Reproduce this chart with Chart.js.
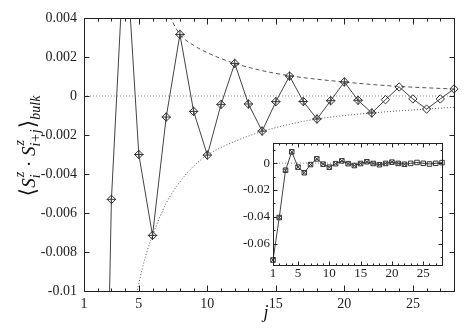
<!DOCTYPE html>
<html>
<head>
<meta charset="utf-8">
<script src="https://cdn.jsdelivr.net/npm/chart.js@4.4.1/dist/chart.umd.min.js"></script>
<style>
  html, body { margin: 0; padding: 0; background: #fff; }
  #wrap { position: relative; width: 469px; height: 335px; }
  #wrap canvas { position: absolute; left: 0; top: 0; }
</style>
</head>
<body>
<div id="wrap">
  <canvas id="mainChart" width="469" height="335"></canvas>
  <canvas id="insetChart" width="469" height="335"></canvas>
</div>
<script>
// correlation <S_i^z S_i+j^z>
const jValues = [1, 2, 3, 4, 5, 6, 7, 8, 9, 10, 11, 12, 13, 14,
                 15, 16, 17, 18, 19, 20, 21, 22, 23, 24, 25, 26, 27, 28];
const corrValues = [-0.0723, -0.0406, -0.0053, 0.0084, -0.0030, -0.00715, -0.00108, 0.00316,
                    -0.00079, -0.00303, -0.00043, 0.00167, -0.00041, -0.00180, -0.00029, 0.00102,
                    -0.00028, -0.00118, -0.00024, 0.00072, -0.00022, -0.00087, -0.00019, 0.00046,
                    -0.00015, -0.00067, -0.00015, 0.00036];
const crossedUpTo = 22; // points up to here carry the extra cross mark

// envelope curves (dashed above, dotted below)
const upperJ = [7, 7.31, 8, 9, 10, 11, 12, 14, 16, 18, 20, 22, 24, 26, 28];
const upperVals = [0.0044, 0.0040, 0.00316, 0.0026, 0.00222, 0.00192, 0.00167, 0.00130,
                   0.00104, 0.00086, 0.00072, 0.00059, 0.00049, 0.00042, 0.00036];
const lowerJ = [4.5, 5, 5.5, 6, 7, 8, 9, 10, 12, 14, 16, 18, 20, 22, 24, 26, 28];
const lowerVals = [-0.0113, -0.0096, -0.0082, -0.00715, -0.0055, -0.0044, -0.0036, -0.00303,
                   -0.00233, -0.00182, -0.00145, -0.00118, -0.00100, -0.00087, -0.00076,
                   -0.00067, -0.00058];

// ticks
const mainYTicks = [0.004, 0.002, 0, -0.002, -0.004, -0.006, -0.008, -0.01];
const mainXLabels = [1, 5, 10, 15, 20, 25];
const insetYTicks = [0.01, 0, -0.01, -0.02, -0.03, -0.04, -0.05, -0.06, -0.07];
const insetYLabels = [0, -0.02, -0.04, -0.06];
const insetXLabels = [1, 5, 10, 15, 20, 25];

const FONT = "'Liberation Serif', 'DejaVu Serif', serif";
Chart.defaults.font.family = FONT;
Chart.defaults.color = '#222';

function pts(xs, ys) {
    return xs.map((x, i) => ({ x: x, y: ys[i] }));
}

const crossJ = jValues.filter(j => j <= crossedUpTo);
const crossVals = corrValues.slice(0, crossJ.length);

// frame with inward ticks on all four sides (gnuplot style)
const frameTicks = {
    id: 'frameTicks',
    afterDatasetsDraw(chart, args, o) {
        const { ctx, chartArea: a } = chart;
        const xs = chart.scales.x, ys = chart.scales.y;
        const L = Math.round(a.left) + 0.5, R = Math.round(a.right) + 0.5;
        const T = Math.round(a.top) + 0.5, B = Math.round(a.bottom) + 0.5;
        ctx.save();
        ctx.strokeStyle = '#222';
        ctx.lineWidth = 1;
        ctx.strokeRect(L, T, R - L, B - T);
        ctx.beginPath();
        xs.ticks.forEach(t => {
            const px = Math.round(xs.getPixelForValue(t.value)) + 0.5;
            const len = o.xMajor.includes(t.value) ? o.xMajorLen : o.xMinorLen;
            ctx.moveTo(px, B); ctx.lineTo(px, B - len);
            ctx.moveTo(px, T); ctx.lineTo(px, T + len);
        });
        ys.ticks.forEach(t => {
            const py = Math.round(ys.getPixelForValue(t.value)) + 0.5;
            const len = o.yMajor.includes(t.value) ? o.yMajorLen : o.yMinorLen;
            ctx.moveTo(L, py); ctx.lineTo(L + len, py);
            ctx.moveTo(R, py); ctx.lineTo(R - len, py);
        });
        ctx.stroke();
        ctx.restore();
    }
};

// axis titles
const axisTitles = {
    id: 'axisTitles',
    afterDraw(chart) {
        const ctx = chart.ctx;
        ctx.save();
        ctx.fillStyle = '#111';
        ctx.textBaseline = 'alphabetic';

        // x title
        ctx.font = 'italic 18px ' + FONT;
        ctx.textAlign = 'center';
        ctx.fillText('j', 266, 318);

        // y title, rotated
        const big = 'italic 19px ' + FONT;
        const small = 'italic 14px ' + FONT;
        const plain = '19px ' + FONT;
        const brk = '22px ' + FONT;
        const parts = [
            { t: '\u27E8', f: brk },
            { t: 'S', f: big },
            { sup: 'z', sub: 'i' },
            { t: ' \u00B7 ', f: plain },
            { t: 'S', f: big },
            { sup: 'z', sub: 'i+j' },
            { t: '\u27E9', f: brk },
            { t: 'bulk', f: small, dy: 5 }
        ];
        const widthOf = p => {
            if (p.t !== undefined) { ctx.font = p.f; return ctx.measureText(p.t).width; }
            ctx.font = small;
            return Math.max(ctx.measureText(p.sup).width, ctx.measureText(p.sub).width) + 1;
        };
        const total = parts.reduce((s, p) => s + widthOf(p), 0);
        ctx.translate(35, 146);
        ctx.rotate(-Math.PI / 2);
        ctx.textAlign = 'left';
        let x = -total / 2;
        parts.forEach(p => {
            const w = widthOf(p);
            if (p.t !== undefined) {
                ctx.font = p.f;
                ctx.fillText(p.t, x, p.dy || 0);
            } else {
                ctx.font = small;
                ctx.fillText(p.sup, x + 1, -11);
                ctx.fillText(p.sub, x, 5);
            }
            x += w;
        });
        ctx.restore();
    }
};

// main chart
new Chart(document.getElementById('mainChart'), {
    type: 'line',
    data: {
        datasets: [
            {
                data: pts(jValues, corrValues),
                borderColor: '#444',
                borderWidth: 1,
                tension: 0,
                pointStyle: 'rectRot',
                pointRadius: 4.2,
                pointBorderColor: '#333',
                pointBackgroundColor: 'rgba(255,255,255,0)',
                pointBorderWidth: 1,
                clip: { left: 0, top: 0, right: 6, bottom: 0 }
            },
            {
                data: pts(crossJ, crossVals),
                showLine: false,
                pointStyle: 'cross',
                pointRadius: 4.6,
                pointBorderColor: '#333',
                pointBorderWidth: 1,
                clip: { left: 0, top: 0, right: 6, bottom: 0 }
            },
            {
                data: pts(upperJ, upperVals),
                borderColor: '#555',
                borderWidth: 1,
                borderDash: [4, 3],
                cubicInterpolationMode: 'monotone',
                pointRadius: 0,
                clip: 0
            },
            {
                data: pts(lowerJ, lowerVals),
                borderColor: '#555',
                borderWidth: 1,
                borderDash: [1, 2],
                cubicInterpolationMode: 'monotone',
                pointRadius: 0,
                clip: 0
            },
            {
                data: [{ x: 1, y: 0 }, { x: 28, y: 0 }],
                borderColor: '#888',
                borderWidth: 1,
                borderDash: [1, 2],
                pointRadius: 0,
                clip: 0
            }
        ]
    },
    options: {
        responsive: false,
        animation: false,
        events: [],
        layout: { padding: { left: 0, top: 18, right: 15, bottom: 0 } },
        plugins: {
            legend: { display: false },
            tooltip: { enabled: false },
            frameTicks: {
                xMajor: mainXLabels, xMajorLen: 6, xMinorLen: 3,
                yMajor: mainYTicks, yMajorLen: 5, yMinorLen: 3
            }
        },
        scales: {
            x: {
                type: 'linear',
                min: 1,
                max: 28,
                grid: { display: false, drawTicks: false },
                border: { display: false },
                afterBuildTicks: s => { s.ticks = jValues.map(v => ({ value: v })); },
                afterFit: s => { s.height = 44; },
                ticks: {
                    autoSkip: false,
                    maxRotation: 0,
                    padding: 5,
                    font: { size: 14 },
                    callback: v => mainXLabels.includes(v) ? String(v) : ''
                }
            },
            y: {
                type: 'linear',
                min: -0.01,
                max: 0.004,
                grid: { display: false, drawTicks: false },
                border: { display: false },
                afterBuildTicks: s => { s.ticks = mainYTicks.map(v => ({ value: v })); },
                afterFit: s => { s.width = 84; },
                ticks: {
                    autoSkip: false,
                    padding: 7,
                    font: { size: 14 },
                    callback: v => String(v)
                }
            }
        }
    },
    plugins: [frameTicks, axisTitles]
});

// inset with the full range
new Chart(document.getElementById('insetChart'), {
    type: 'line',
    data: {
        datasets: [
            {
                data: pts(jValues, corrValues),
                borderColor: '#444',
                borderWidth: 1,
                tension: 0,
                pointStyle: 'rect',
                pointRadius: 3.2,
                pointBorderColor: '#333',
                pointBackgroundColor: 'rgba(255,255,255,0)',
                pointBorderWidth: 1,
                clip: 5
            },
            {
                data: pts(crossJ, crossVals),
                showLine: false,
                pointStyle: 'crossRot',
                pointRadius: 3,
                pointBorderColor: '#333',
                pointBorderWidth: 1,
                clip: 5
            },
            {
                data: [{ x: 1, y: 0 }, { x: 28, y: 0 }],
                borderColor: '#888',
                borderWidth: 1,
                borderDash: [1, 2],
                pointRadius: 0,
                clip: 0
            }
        ]
    },
    options: {
        responsive: false,
        animation: false,
        events: [],
        layout: { padding: { left: 230, top: 143, right: 27, bottom: 0 } },
        plugins: {
            legend: { display: false },
            tooltip: { enabled: false },
            frameTicks: {
                xMajor: insetXLabels, xMajorLen: 4, xMinorLen: 2,
                yMajor: insetYLabels, yMajorLen: 4, yMinorLen: 2
            }
        },
        scales: {
            x: {
                type: 'linear',
                min: 1,
                max: 28,
                grid: { display: false, drawTicks: false },
                border: { display: false },
                afterBuildTicks: s => { s.ticks = jValues.map(v => ({ value: v })); },
                afterFit: s => { s.height = 70; },
                ticks: {
                    autoSkip: false,
                    maxRotation: 0,
                    padding: 1,
                    font: { size: 13 },
                    callback: v => insetXLabels.includes(v) ? String(v) : ''
                }
            },
            y: {
                type: 'linear',
                min: -0.076,
                max: 0.015,
                grid: { display: false, drawTicks: false },
                border: { display: false },
                afterBuildTicks: s => { s.ticks = insetYTicks.map(v => ({ value: v })); },
                afterFit: s => { s.width = 43; },
                ticks: {
                    autoSkip: false,
                    padding: 3,
                    font: { size: 13 },
                    callback: v => insetYLabels.includes(v) ? String(v) : ''
                }
            }
        }
    },
    plugins: [frameTicks]
});
</script>
</body>
</html>
